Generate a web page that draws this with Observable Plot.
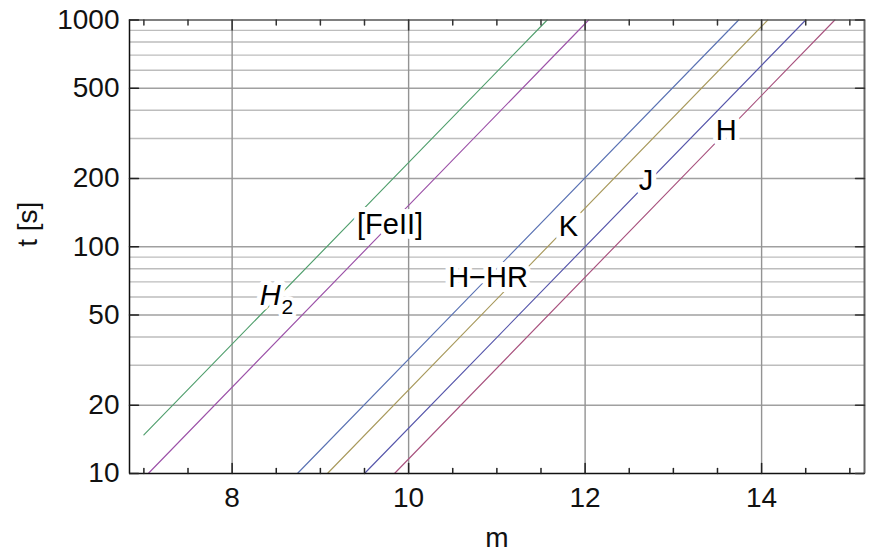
<!DOCTYPE html>
<html>
<head>
<meta charset="utf-8">
<script src="https://cdn.jsdelivr.net/npm/d3@7"></script>
<script src="https://cdn.jsdelivr.net/npm/@observablehq/plot@0.6"></script>
<style>
  html, body { margin: 0; padding: 0; background: #fff; }
  #chart { width: 871px; height: 555px; }
</style>
</head>
<body>
<div id="chart"></div>
<script>
// ---- data ----
const series  = ["H2", "[FeII]", "H-HR", "K", "J", "H"];
const colors  = ["#4f9e6c", "#9c52a8", "#5a72b3", "#a8995c", "#5555aa", "#a8527e"];
const mStart  = [7.0, 7.05, 8.74, 9.08, 9.50, 9.84];
const tStart  = [14.8, 10, 10, 10, 10, 10];
const mEnd    = [11.57, 12.04, 13.74, 14.07, 14.50, 14.83];
const tEnd    = [1000, 1000, 1000, 1000, 1000, 1000];

// label anchor points (center of text) on each curve
const labelText = ["H", "[FeII]", "H\u2212HR", "K", "J", "H"];
const labelM    = [8.50, 9.79, 10.90, 11.81, 12.69, 13.60];
const labelT    = [58, 125, 73, 123, 196, 326];

// axes
const xDomain = [6.837, 15.166];
const yDomain = [10, 1000];
const xTicks = [8, 10, 12, 14];
const xMinor = [7, 7.5, 8.5, 9, 9.5, 10.5, 11, 11.5, 12.5, 13, 13.5, 14.5, 15];
const yTicks = [10, 20, 50, 100, 200, 500, 1000];
const yGridMajor = [20, 50, 100, 200, 500];
const yGridMinor = [30, 40, 60, 70, 80, 90, 300, 400, 600, 700, 800, 900];

// ---- build table ----
const lineData = [];
series.forEach((s, i) => {
  lineData.push({series: s, m: mStart[i], t: tStart[i]});
  lineData.push({series: s, m: mEnd[i], t: tEnd[i]});
});
const labels = labelText.map((txt, i) => ({text: txt, m: labelM[i], t: labelT[i]}));

const tick = {draw(ctx, l) { ctx.moveTo(0, 0); ctx.lineTo(0, -l); }};
const font = "'Liberation Sans', Arial, sans-serif";
const halo = {fill: "#000", stroke: "#fff", strokeLinejoin: "round", paintOrder: "stroke"};

const chart = Plot.plot({
  width: 871,
  height: 555,
  marginLeft: 129,
  marginRight: 7,
  marginTop: 19.5,
  marginBottom: 82,
  style: {fontFamily: font, fontSize: "28px", background: "#fff", color: "#000"},
  x: {domain: xDomain, axis: null},
  y: {type: "log", domain: yDomain, axis: null},
  color: {domain: series, range: colors},
  marks: [
    Plot.ruleY(yGridMinor, {stroke: "#bdbdbd", strokeWidth: 1.4}),
    Plot.ruleY(yGridMajor, {stroke: "#a0a0a0", strokeWidth: 1.4}),
    Plot.ruleX(xTicks, {stroke: "#939393", strokeWidth: 1.4}),
    Plot.line(lineData, {x: "m", y: "t", z: "series", stroke: "series", strokeWidth: 1.15}),
    // labels with white backing
    Plot.text(labels.slice(1), {x: "m", y: "t", text: "text", fontSize: 29, lineAnchor: "middle",
      strokeWidth: 10, ...halo}),
    Plot.text(labels.slice(0, 1), {x: "m", y: "t", text: "text", fontSize: 29, fontStyle: "italic",
      lineAnchor: "middle", dx: -6, dy: -5, strokeWidth: 10, ...halo}),
    Plot.text(labels.slice(0, 1), {x: "m", y: "t", text: () => "2", fontSize: 21,
      lineAnchor: "middle", dx: 11, dy: 7, strokeWidth: 8, ...halo}),
    // frame
    Plot.ruleY([yDomain[1]], {stroke: "#555", strokeWidth: 1.3}),
    Plot.ruleX([xDomain[1]], {stroke: "#666", strokeWidth: 2}),
    Plot.ruleY([yDomain[0]], {stroke: "#111", strokeWidth: 1.5}),
    Plot.ruleX([xDomain[0]], {stroke: "#111", strokeWidth: 1.5}),
    // inward ticks
    Plot.vector(xMinor, {x: d => d, y: yDomain[0], length: 5, rotate: 0, anchor: "start", shape: tick, stroke: "#222"}),
    Plot.vector(xTicks, {x: d => d, y: yDomain[0], length: 10, rotate: 0, anchor: "start", shape: tick, stroke: "#222"}),
    Plot.vector(xMinor, {x: d => d, y: yDomain[1], length: 5, rotate: 180, anchor: "start", shape: tick, stroke: "#333"}),
    Plot.vector(xTicks, {x: d => d, y: yDomain[1], length: 10, rotate: 180, anchor: "start", shape: tick, stroke: "#333"}),
    Plot.vector(yTicks, {x: xDomain[0], y: d => d, length: 9, rotate: 90, anchor: "start", shape: tick, stroke: "#222"}),
    Plot.vector(yTicks, {x: xDomain[1], y: d => d, length: 9, rotate: -90, anchor: "start", shape: tick, stroke: "#333"}),
    // tick labels
    Plot.text(xTicks, {x: d => d, frameAnchor: "bottom", dy: 25, lineAnchor: "middle", text: d => String(d), fill: "#111"}),
    Plot.text(yTicks, {y: d => d, frameAnchor: "left", dx: -10, textAnchor: "end", lineAnchor: "middle", text: d => String(d), fill: "#111"}),
    // axis titles
    Plot.text(["m"], {frameAnchor: "bottom", dy: 65, lineAnchor: "middle", text: d => d, fill: "#111"}),
    Plot.text(["t [s]"], {frameAnchor: "left", dx: -101, rotate: -90, lineAnchor: "middle", text: d => d, fill: "#111"})
  ]
});
document.getElementById("chart").appendChild(chart);
</script>
</body>
</html>
